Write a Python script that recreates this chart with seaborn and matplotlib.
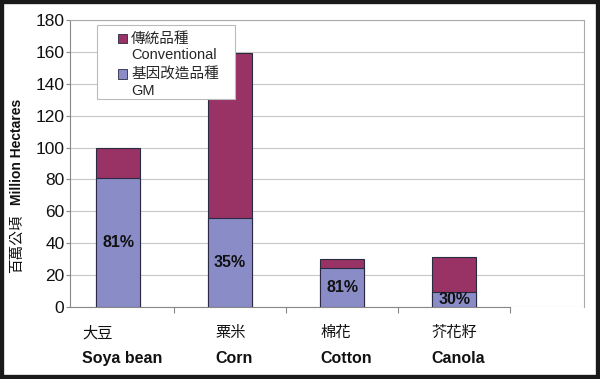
import matplotlib
matplotlib.use("Agg")
import matplotlib.pyplot as plt
from matplotlib.patches import Patch, Rectangle
from matplotlib.legend_handler import HandlerPatch
from matplotlib.transforms import blended_transform_factory
import seaborn as sns
import pandas as pd

crops_zh = ["大豆", "粟米", "棉花", "芥花籽"]
crops_en = ["Soya bean", "Corn", "Cotton", "Canola"]
gm_area = [81, 55.6, 24.3, 9.4]
conventional_area = [19, 103.6, 5.7, 21.8]
gm_share = ["81%", "35%", "81%", "30%"]
yticks = [0, 20, 40, 60, 80, 100, 120, 140, 160, 180]

sns.set_theme(style="white")
plt.rcParams['font.family'] = ['Liberation Sans', 'Noto Sans CJK TC', 'DejaVu Sans']

df = pd.DataFrame({
    "crop": crops_en,
    "gm": gm_area,
    "total": [g + c for g, c in zip(gm_area, conventional_area)],
})

conv_color = "#993366"
gm_color = "#8a8cc8"
edge = "#2a2a40"

fig = plt.figure(figsize=(6.0, 3.79), dpi=100)
ax = fig.add_axes([70/600, 1-307/379, 514/600, 287/379])

sns.barplot(data=df, x="crop", y="total", color=conv_color, saturation=1,
            width=0.39, edgecolor=edge, linewidth=0.8, ax=ax, zorder=3)
sns.barplot(data=df, x="crop", y="gm", color=gm_color, saturation=1,
            width=0.39, edgecolor=edge, linewidth=0.8, ax=ax, zorder=4)

for i, (g, s) in enumerate(zip(gm_area, gm_share)):
    ax.text(i, g / 2, s, ha="center", va="center", fontsize=11.5,
            fontweight="bold", color="#111111", zorder=5)

ax.set_xlim(-0.43, 4.16)
ax.set_ylim(0, 180)
ax.set_yticks(yticks)
ax.set_yticklabels([str(v) for v in yticks], fontsize=12.5, color="#111111")
ax.grid(axis="y", color="#c8c8c8", linewidth=0.8, zorder=0)
ax.set_axisbelow(True)

ax.set_xticks(range(4))
ax.set_xticklabels([])
ax.set_xticks([0.5, 1.5, 2.5, 3.5], minor=True)
ax.tick_params(axis="x", which="major", length=0)
ax.tick_params(axis="x", which="minor", length=4, color="#888888", width=0.8, bottom=True)
ax.tick_params(axis="y", length=3, color="#888888", width=0.8, left=True, pad=1)

en_texts = []
for i, en in enumerate(crops_en):
    t = ax.text(i + 0.035, -0.18, en, transform=ax.get_xaxis_transform(), ha="center",
                va="center", fontsize=11.5, fontweight="bold", color="#111111")
    en_texts.append(t)

fig.canvas.draw()
renderer = fig.canvas.get_renderer()
for t, zh in zip(en_texts, crops_zh):
    x0 = t.get_window_extent(renderer).x0
    xd = ax.transData.inverted().transform((x0, 0))[0]
    ax.text(xd, -0.09, zh, transform=ax.get_xaxis_transform(), ha="left",
            va="center", fontsize=11, color="#111111")

ax.set_xlabel("")
ax.set_ylabel("")
fig.text(17/600, 1-244/379, "百萬公頃", rotation=90,
         ha="center", va="center", fontsize=10.5, color="#111111")
fig.text(17/600, 1-152/379, "Million Hectares", rotation=90,
         ha="center", va="center", fontsize=10, fontweight="bold", color="#111111")

for side in ["top", "right"]:
    ax.spines[side].set_color("#aaaaaa")
    ax.spines[side].set_linewidth(0.8)
ax.spines["left"].set_color("#888888")
ax.spines["left"].set_linewidth(0.8)
ax.spines["bottom"].set_color("#888888")
ax.spines["bottom"].set_linewidth(0.8)
ax.spines["bottom"].set_bounds(-0.43, 3.5)

# legend box
ax.add_patch(Rectangle((27/514, (307-99)/287), 138/514, 74/287, transform=ax.transAxes,
                       facecolor="white", edgecolor="#bbbbbb", linewidth=0.8, zorder=6))


def top_patch(legend, orig_handle, xdescent, ydescent, width, height, fontsize):
    return Rectangle((-xdescent, -ydescent + 6.5), width, height)


handles = [Patch(facecolor=conv_color, edgecolor=edge, linewidth=0.6),
           Patch(facecolor=gm_color, edgecolor=edge, linewidth=0.6)]
leg = ax.legend(handles, ["傳統品種\nConventional", "基因改造品種\nGM"],
                loc="upper left", bbox_to_anchor=((118-70)/514, (307-32)/287),
                borderaxespad=0, borderpad=0, fontsize=10.5, frameon=False,
                handlelength=0.65, handleheight=0.65, handletextpad=0.25,
                labelspacing=0.35,
                handler_map={Patch: HandlerPatch(patch_func=top_patch)})
leg.set_zorder(7)

fig.patches.append(Rectangle((0, 0), 1, 1, transform=fig.transFigure, fill=False,
                             edgecolor="#1a1a1a", linewidth=6))

fig.savefig("out.png", dpi=100)
